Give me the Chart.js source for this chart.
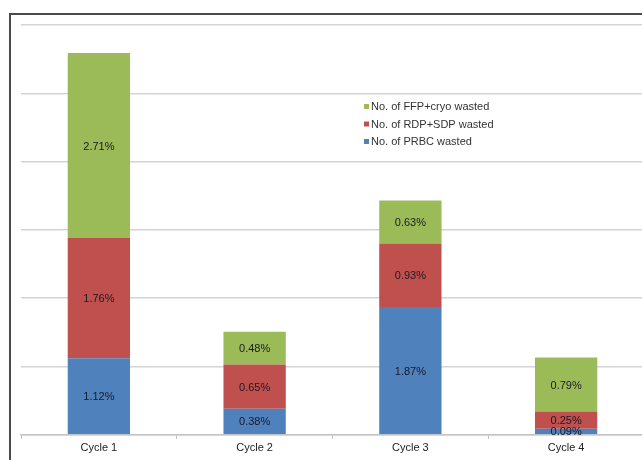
<!DOCTYPE html>
<html>
<head>
<meta charset="utf-8">
<script src="https://cdn.jsdelivr.net/npm/chart.js@4/dist/chart.umd.min.js"></script>
<style>
  html, body { margin: 0; padding: 0; background: #fff; }
  body { width: 642px; height: 460px; position: relative; overflow: hidden; }
  #frame {
    position: absolute; left: 9px; top: 13px; width: 631px; height: 460px;
    border: 2px solid #4a4a4a; border-bottom: none; border-right: 1px solid #e6e6e6;
  }
  #wrap { position: absolute; left: 11px; top: 15px; width: 634px; height: 445px; }
</style>
</head>
<body>
<div id="frame"></div>
<div id="wrap"><canvas id="chart"></canvas></div>
<script>
// categories and stacked series (percent wasted)
const cycles = ["Cycle 1", "Cycle 2", "Cycle 3", "Cycle 4"];
const prbc = [1.12, 0.38, 1.87, 0.09];
const rdpSdp = [1.76, 0.65, 0.93, 0.25];
const ffpCryo = [2.71, 0.48, 0.63, 0.79];

const seriesNames = ["No. of PRBC wasted", "No. of RDP+SDP wasted", "No. of FFP+cryo wasted"];
const seriesColors = ["#4f81bd", "#c0504d", "#9bbb59"];

Chart.defaults.font.family = "Liberation Sans, Arial, sans-serif";
Chart.defaults.color = "#222";

// writes the value in the middle of every segment
const segmentLabels = {
  id: "segmentLabels",
  afterDatasetsDraw(chart) {
    const ctx = chart.ctx;
    ctx.save();
    ctx.font = "11px Liberation Sans, Arial, sans-serif";
    ctx.fillStyle = "#1a1a24";
    ctx.textAlign = "center";
    ctx.textBaseline = "middle";
    chart.data.datasets.forEach((ds, i) => {
      chart.getDatasetMeta(i).data.forEach((bar, j) => {
        const p = bar.getProps(["x", "y", "base"], true);
        ctx.fillText(ds.data[j].toFixed(2) + "%", p.x, (p.y + p.base) / 2 + 1);
      });
    });
    ctx.restore();
  }
};

// legend drawn inside the plot, top series first
const innerLegend = {
  id: "innerLegend",
  afterDraw(chart) {
    const ctx = chart.ctx;
    const area = chart.chartArea;
    const x = area.left + 343;
    let y = area.top + 82;
    ctx.save();
    ctx.font = "11px Liberation Sans, Arial, sans-serif";
    ctx.textBaseline = "middle";
    ctx.textAlign = "left";
    const list = chart.data.datasets.slice().reverse();
    list.forEach(ds => {
      ctx.fillStyle = ds.backgroundColor;
      ctx.fillRect(x, y - 3, 5, 5);
      ctx.fillStyle = "#333";
      ctx.fillText(ds.label, x + 7, y);
      y += 17.5;
    });
    ctx.restore();
  }
};

new Chart(document.getElementById("chart"), {
  type: "bar",
  data: {
    labels: cycles,
    datasets: [
      { label: seriesNames[0], data: prbc, backgroundColor: seriesColors[0] },
      { label: seriesNames[1], data: rdpSdp, backgroundColor: seriesColors[1] },
      { label: seriesNames[2], data: ffpCryo, backgroundColor: seriesColors[2] }
    ]
  },
  options: {
    responsive: true,
    maintainAspectRatio: false,
    animation: false,
    datasets: {
      bar: { categoryPercentage: 1, barPercentage: 0.4, borderWidth: 0 }
    },
    layout: { padding: { left: 10, top: 10, right: 1, bottom: 2 } },
    plugins: {
      legend: { display: false },
      tooltip: { enabled: false }
    },
    scales: {
      x: {
        stacked: true,
        grid: { display: true, drawOnChartArea: false, tickLength: 4, color: "#bdbdbd" },
        border: { color: "#c4c4c4", width: 1.5 },
        ticks: { padding: 3, color: "#222", font: { size: 11 } }
      },
      y: {
        stacked: true,
        min: 0,
        max: 6,
        ticks: { display: false, stepSize: 1 },
        grid: { color: "#d4d4d4", lineWidth: 1.5, drawTicks: false },
        border: { display: false }
      }
    }
  },
  plugins: [segmentLabels, innerLegend]
});
</script>
</body>
</html>
